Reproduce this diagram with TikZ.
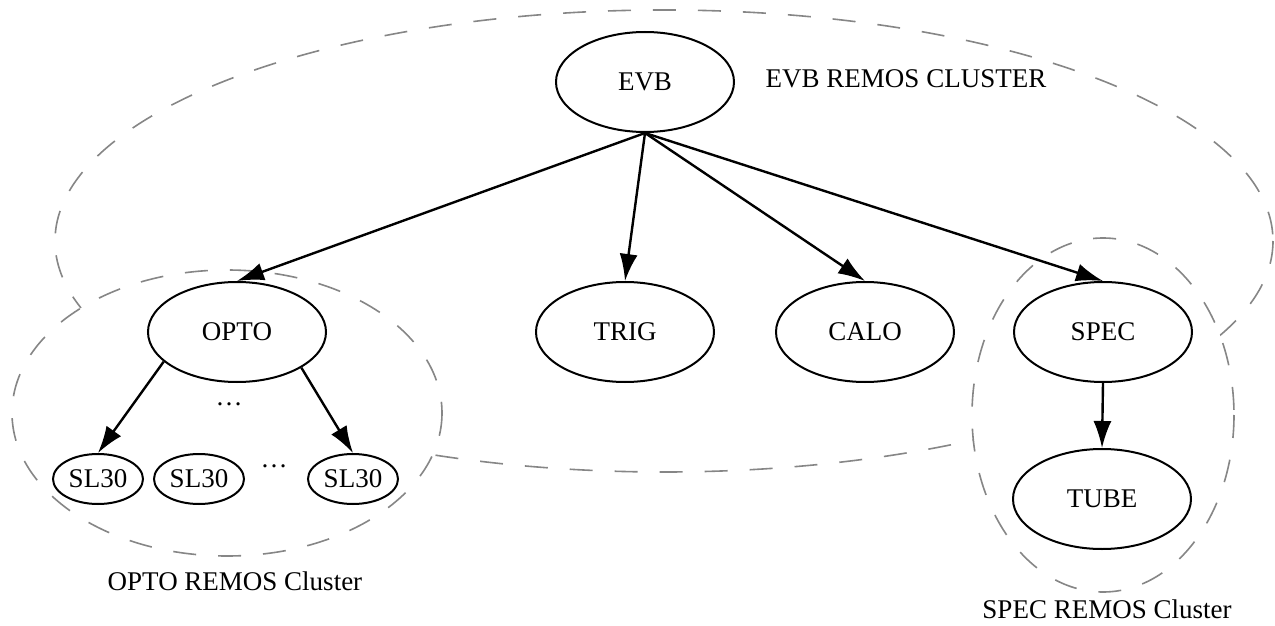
\documentclass[tikz,border=0pt]{standalone}
\usepackage{fontspec}
\setmainfont{Liberation Serif}
\usetikzlibrary{arrows.meta,shapes.geometric}

\begin{document}
\begin{tikzpicture}[x=0.5pt,y=-0.5pt,->,>={Latex[length=13.5pt,width=9pt]},
  line width=1.2pt,font=\fontsize{13.5}{16}\selectfont,
  main node/.style={ellipse,draw,line width=1pt,inner sep=0pt,
    minimum width=89pt,minimum height=50pt},
  small node/.style={main node,minimum width=45pt,minimum height=25pt},
  cluster/.style={draw=gray!95,line width=0.8pt,dash pattern=on 11.5pt off 11pt,-}]
  \useasboundingbox (0,0) rectangle (1275,626);
  % clusters
  \draw[cluster] (664,241) ellipse [x radius=609,y radius=231];
  \draw[cluster,fill=white] (227,413) ellipse [x radius=215,y radius=143];
  \draw[cluster,fill=white] (1103,415) ellipse [x radius=131,y radius=177];
  % nodes
  \node[main node] (evb) at (645,82) {EVB};
  \node[main node] (opto) at (237,332) {OPTO};
  \node[main node] (trig) at (625,332) {TRIG};
  \node[main node] (calo) at (865,332) {CALO};
  \node[main node] (spec) at (1103,332) {SPEC};
  \node[main node] (tube) at (1102,499) {TUBE};
  \node[small node] (sl_a) at (98,479) {SL30};
  \node[small node] (sl_b) at (199,479) {SL30};
  \node[small node] (sl_c) at (353,479) {SL30};
  \node (dots_a) at (229,404) {\dots};
  \node (dots_b) at (274,466) {\dots};
  % labels
  \node (evb_lbl) at (906,79) {EVB REMOS CLUSTER};
  \node (opto_lbl) at (235,581) {OPTO REMOS Cluster};
  \node (spec_lbl) at (1107,609) {SPEC REMOS Cluster};
  % edges
  \path
    (evb.south) edge (opto.north)
    (evb.south) edge (trig.north)
    (evb.south) edge (calo.north)
    (evb.south) edge (spec.north)
    (opto.202) edge (sl_a.north)
    (opto.331) edge (sl_c.north)
    (spec.south) edge (tube.north)
;
\end{tikzpicture}
\end{document}
